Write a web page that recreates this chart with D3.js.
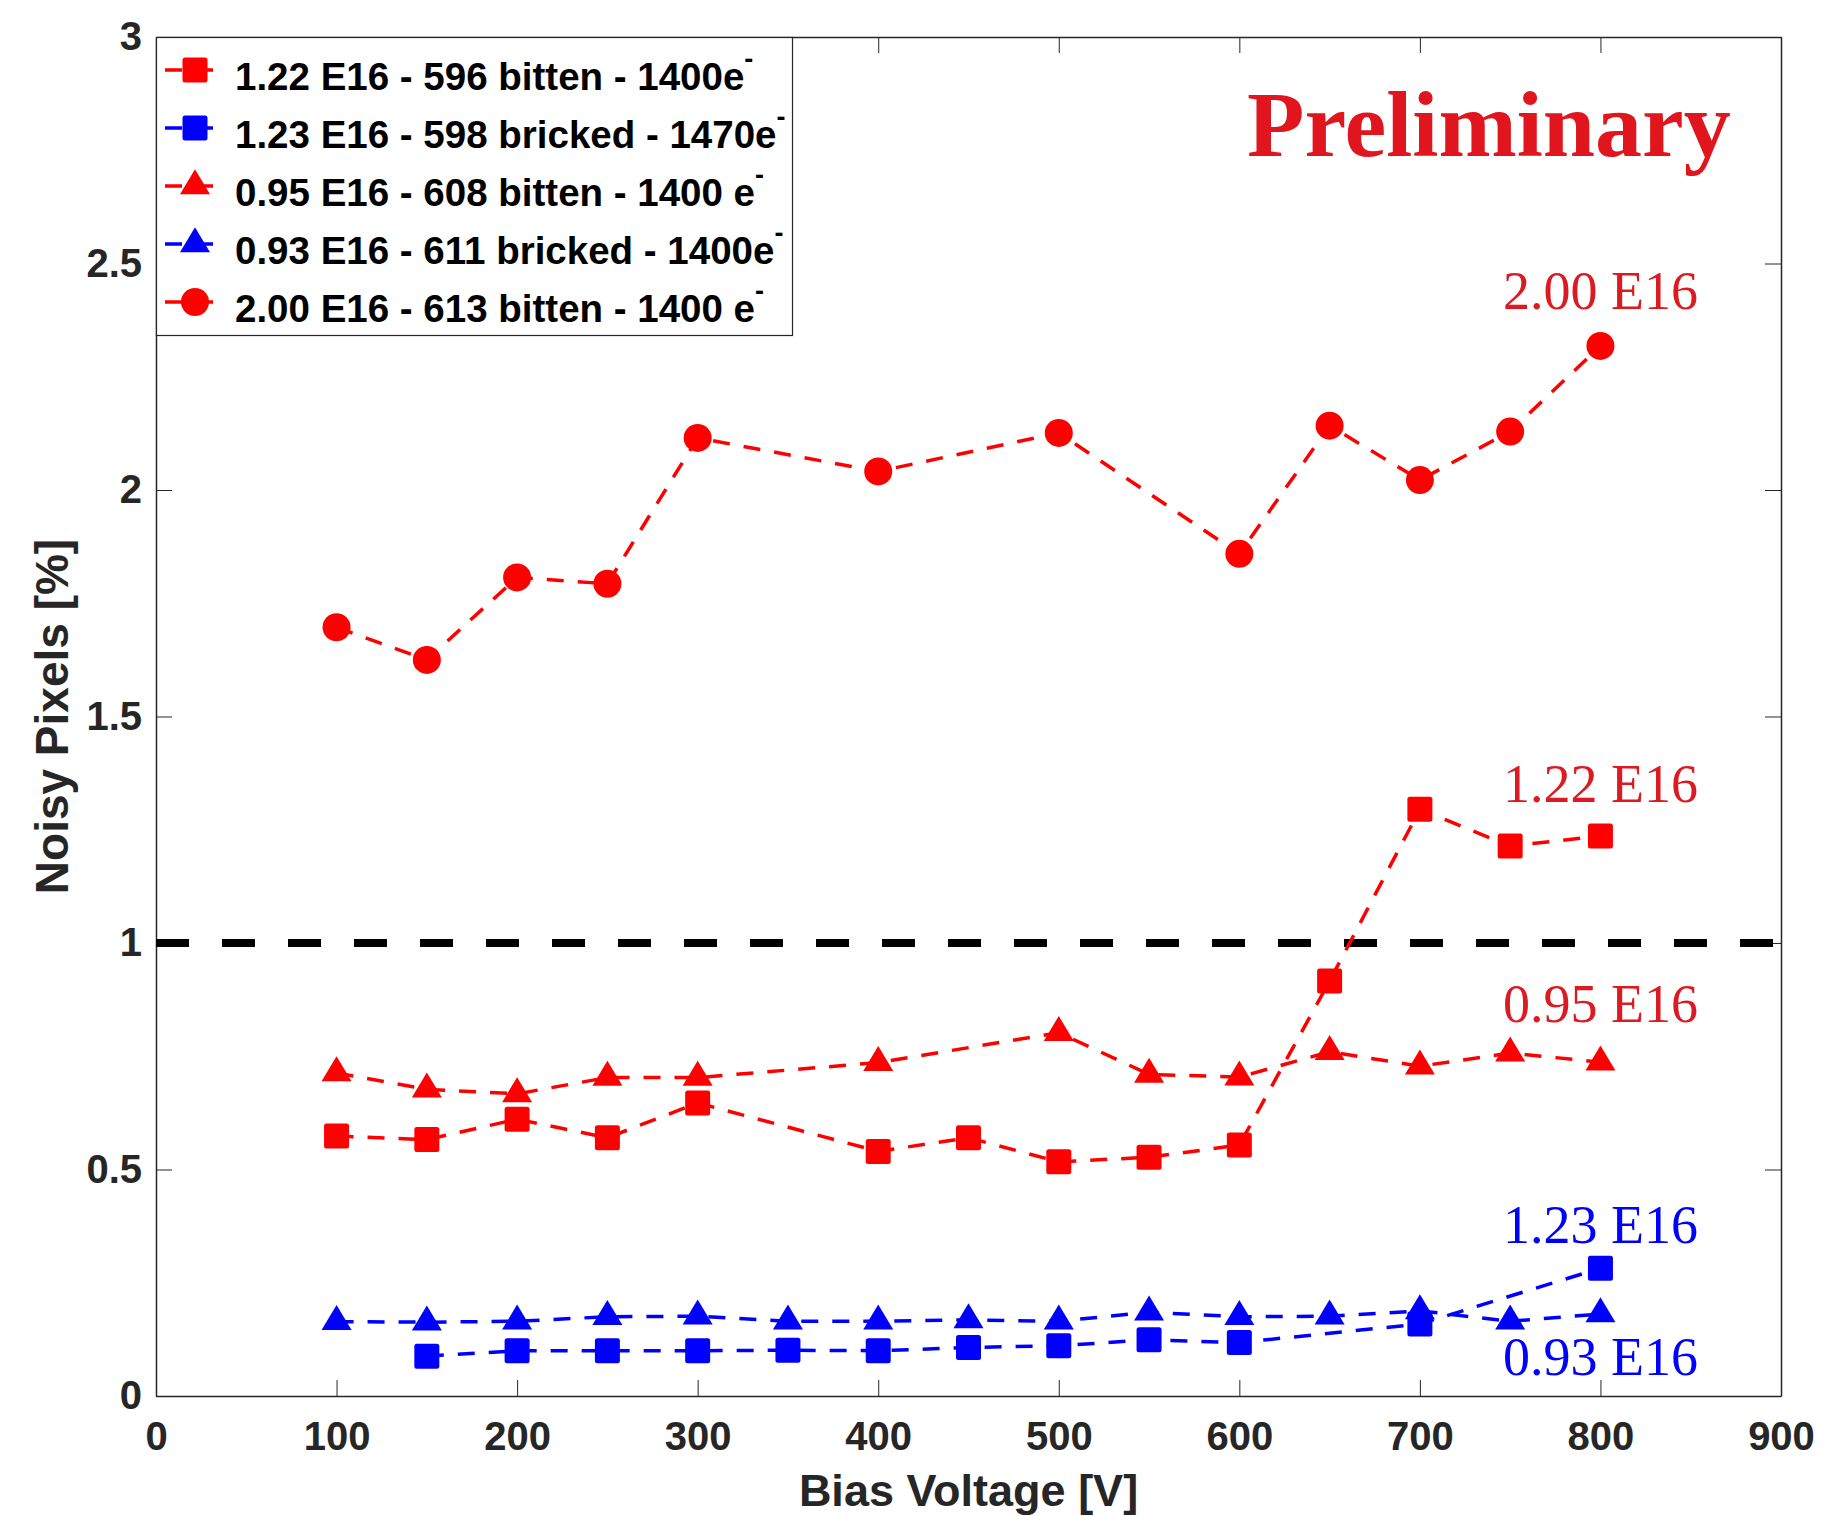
<!DOCTYPE html>
<html>
<head>
<meta charset="utf-8">
<script src="https://cdn.jsdelivr.net/npm/d3@7"></script>
<style>
  body { margin: 0; background: #fff; }
  svg { display: block; }
</style>
</head>
<body>
<div id="chart"></div>
<script>
// noisy pixels vs bias voltage, one array pair per sensor
const volts596 = [100, 150, 200, 250, 300, 400, 450, 500, 550, 600, 650, 700, 750, 800];
const noisy596 = [0.574, 0.566, 0.611, 0.570, 0.647, 0.540, 0.570, 0.517, 0.527, 0.554, 0.916, 1.295, 1.214, 1.236];

const volts598 = [150, 200, 250, 300, 350, 400, 450, 500, 550, 600, 700, 800];
const noisy598 = [0.088, 0.100, 0.100, 0.100, 0.101, 0.100, 0.107, 0.111, 0.124, 0.118, 0.159, 0.282];

const volts608 = [100, 150, 200, 250, 300, 400, 500, 550, 600, 650, 700, 750, 800];
const noisy608 = [0.713, 0.677, 0.667, 0.703, 0.703, 0.736, 0.802, 0.710, 0.704, 0.760, 0.728, 0.757, 0.737];

const volts611 = [100, 150, 200, 250, 300, 350, 400, 450, 500, 550, 600, 650, 700, 750, 800];
const noisy611 = [0.164, 0.163, 0.165, 0.175, 0.176, 0.165, 0.165, 0.168, 0.165, 0.185, 0.175, 0.176, 0.188, 0.165, 0.181];

const volts613 = [100, 150, 200, 250, 300, 400, 500, 600, 650, 700, 750, 800];
const noisy613 = [1.697, 1.625, 1.807, 1.793, 2.115, 2.041, 2.126, 1.859, 2.142, 2.022, 2.129, 2.318];

const legendNames = [
    ["1.22 E16 - 596 bitten - 1400e", "-"],
    ["1.23 E16 - 598 bricked - 1470e", "-"],
    ["0.95 E16 - 608 bitten - 1400 e", "-"],
    ["0.93 E16 - 611 bricked - 1400e", "-"],
    ["2.00 E16 - 613 bitten - 1400 e", "-"]
];
const fluenceLabels = ["2.00 E16", "1.22 E16", "0.95 E16", "1.23 E16", "0.93 E16"];
const threshold = 1;

const xTicks = [0, 100, 200, 300, 400, 500, 600, 700, 800, 900];
const yTicks = [0, 0.5, 1, 1.5, 2, 2.5, 3];

const RED = "#ff0000", BLUE = "#0000ff";
const series = [
    { v: volts596, n: noisy596, color: RED, shape: "square" },
    { v: volts598, n: noisy598, color: BLUE, shape: "square" },
    { v: volts608, n: noisy608, color: RED, shape: "triangle" },
    { v: volts611, n: noisy611, color: BLUE, shape: "triangle" },
    { v: volts613, n: noisy613, color: RED, shape: "circle" }
];

const svg = d3.select("#chart").append("svg")
    .attr("width", 1823)
    .attr("height", 1516);

const margin = { top: 37, right: 42, bottom: 120, left: 156 },
    width = 1823 - margin.left - margin.right,
    height = 1516 - margin.top - margin.bottom;

const x = d3.scaleLinear().domain([0, 900]).range([margin.left, margin.left + width]);
const y = d3.scaleLinear().domain([0, 3]).range([margin.top + height, margin.top]);

const axisColor = "#262626";

function styleAxis(g) {
    g.select(".domain").attr("stroke", axisColor).attr("stroke-width", 1.5);
    g.selectAll(".tick line").attr("stroke", axisColor).attr("stroke-width", 1);
    g.selectAll(".tick text")
        .attr("fill", axisColor)
        .style("font-family", "'Liberation Sans', Arial, sans-serif")
        .style("font-weight", "bold")
        .style("font-size", "40px");
}

// axes, ticks pointing inward like matlab
svg.append("g")
    .attr("transform", `translate(0,${y(0)})`)
    .call(d3.axisBottom(x).tickValues(xTicks).tickSize(-16).tickSizeOuter(0).tickPadding(26))
    .call(styleAxis);

svg.append("g")
    .attr("transform", `translate(0,${y(3)})`)
    .call(d3.axisTop(x).tickValues(xTicks).tickSize(-16).tickSizeOuter(0).tickFormat(""))
    .call(styleAxis);

svg.append("g")
    .attr("transform", `translate(${x(0)},0)`)
    .call(d3.axisLeft(y).tickValues(yTicks).tickSize(-16).tickSizeOuter(0).tickPadding(14).tickFormat(d3.format("")))
    .call(styleAxis);

svg.append("g")
    .attr("transform", `translate(${x(900)},0)`)
    .call(d3.axisRight(y).tickValues(yTicks).tickSize(-16).tickSizeOuter(0).tickFormat(""))
    .call(styleAxis);

// axis titles
svg.append("text")
    .attr("x", (x(0) + x(900)) / 2)
    .attr("y", 1506)
    .attr("text-anchor", "middle")
    .attr("fill", axisColor)
    .style("font-family", "'Liberation Sans', Arial, sans-serif")
    .style("font-weight", "bold")
    .style("font-size", "45px")
    .text("Bias Voltage [V]");

svg.append("text")
    .attr("transform", `translate(68,${(y(0) + y(3)) / 2}) rotate(-90)`)
    .attr("text-anchor", "middle")
    .attr("fill", axisColor)
    .style("font-family", "'Liberation Sans', Arial, sans-serif")
    .style("font-weight", "bold")
    .style("font-size", "46px")
    .text("Noisy Pixels [%]");

// 1% threshold line
svg.append("line")
    .attr("x1", x(0)).attr("x2", x(900))
    .attr("y1", y(threshold)).attr("y2", y(threshold))
    .attr("stroke", "#000")
    .attr("stroke-width", 8)
    .attr("stroke-dasharray", "33,33");

function drawMarker(g, shape, color) {
    if (shape === "square") {
        g.append("rect").attr("x", -12.5).attr("y", -12.5).attr("width", 25).attr("height", 25)
            .attr("rx", 2.5).attr("fill", color);
    } else if (shape === "triangle") {
        // centroid on the data point
        g.append("path").attr("d", "M0,-16.7L15,8.3L-15,8.3Z").attr("fill", color);
    } else {
        g.append("circle").attr("r", 14).attr("fill", color);
    }
}

const line = d3.line().x(d => x(d[0])).y(d => y(d[1]));

series.forEach(s => {
    const pts = s.v.map((v, i) => [v, s.n[i]]);
    const g = svg.append("g");
    g.append("path")
        .attr("d", line(pts))
        .attr("fill", "none")
        .attr("stroke", s.color)
        .attr("stroke-width", 3.5)
        .attr("stroke-dasharray", "17,14");
    g.selectAll(".mk")
        .data(pts)
        .join("g")
        .attr("class", "mk")
        .attr("transform", d => `translate(${x(d[0])},${y(d[1])})`)
        .each(function () { drawMarker(d3.select(this), s.shape, s.color); });
});

// fluence labels at the right end
const labelColors = ["#dc1a22", "#dc1a22", "#dc1a22", BLUE, BLUE];
const labelBase = [309, 802, 1022, 1243, 1375];
fluenceLabels.forEach((t, i) => {
    svg.append("text")
        .attr("x", x(800))
        .attr("y", labelBase[i])
        .attr("text-anchor", "middle")
        .attr("fill", labelColors[i])
        .style("font-family", "'Liberation Serif', 'Times New Roman', serif")
        .style("font-size", "54px")
        .text(t);
});

svg.append("text")
    .attr("x", 1247)
    .attr("y", 156)
    .attr("fill", "#e0151d")
    .style("font-family", "'Liberation Serif', 'Times New Roman', serif")
    .style("font-weight", "bold")
    .style("font-size", "94px")
    .text("Preliminary");

// legend
const legend = svg.append("g");
legend.append("rect")
    .attr("x", 156.5).attr("y", 37.5)
    .attr("width", 636).attr("height", 298)
    .attr("fill", "#fff")
    .attr("stroke", axisColor)
    .attr("stroke-width", 1.2);

legendNames.forEach((name, i) => {
    const s = series[i];
    const base = 90 + i * 58;
    const row = legend.append("g");
    row.append("line")
        .attr("x1", 165).attr("x2", 220)
        .attr("y1", base - 20).attr("y2", base - 20)
        .attr("stroke", s.color)
        .attr("stroke-width", 3.5)
        .attr("stroke-dasharray", "17,14");
    const m = row.append("g").attr("transform", `translate(195,${base - 20})`);
    drawMarker(m, s.shape, s.color);
    const txt = row.append("text")
        .attr("x", 235)
        .attr("y", base)
        .attr("fill", "#000")
        .style("font-family", "'Liberation Sans', Arial, sans-serif")
        .style("font-weight", "bold")
        .style("font-size", "38.5px");
    txt.append("tspan").text(name[0]);
    txt.append("tspan").attr("dy", -22).style("font-size", "27px").text(name[1]);
});
</script>
</body>
</html>
